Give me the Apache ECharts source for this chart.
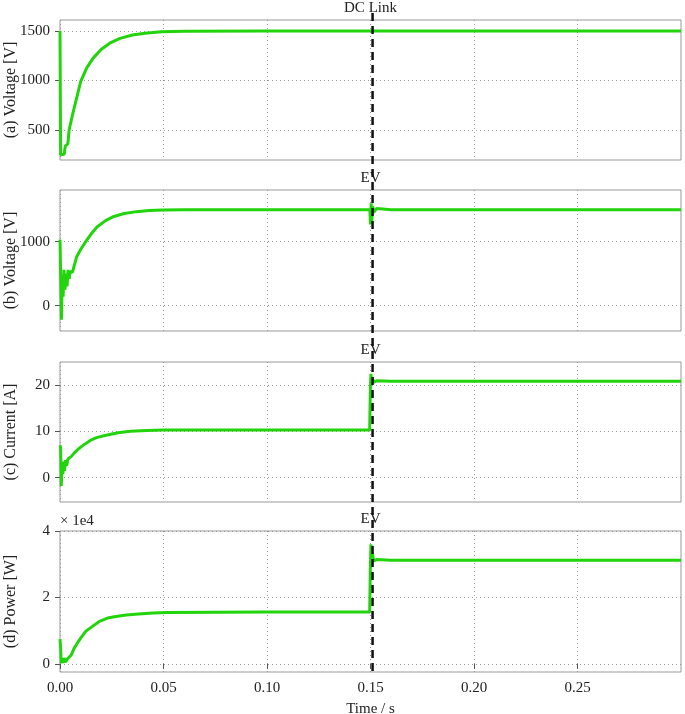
<!DOCTYPE html>
<html>
<head>
<meta charset="utf-8">
<script src="https://cdn.jsdelivr.net/npm/echarts@6/dist/echarts.min.js"></script>
<style>
html,body{margin:0;padding:0;background:#fff;}
#chart{width:685px;height:714px;}
</style>
</head>
<body>
<div id="chart"></div>
<script>
// ---- Data ----
const panelTitles = ['DC Link', 'EV', 'EV', 'EV'];
const yNames = ['(a) Voltage [V]', '(b) Voltage [V]', '(c) Current [A]', '(d) Power [W]'];
const xTicks = [0, 0.05, 0.10, 0.15, 0.20, 0.25];
const yTicksA = [500, 1000, 1500];
const yTicksB = [0, 1000];
const yTicksC = [0, 10, 20];
const yTicksD = [0, 20000, 40000];
const eventTime = 0.151;

const timeA = [0, 0.0003, 0.001, 0.002, 0.0026, 0.0032, 0.0038, 0.0044, 0.006, 0.008, 0.010, 0.013, 0.016, 0.020, 0.024, 0.029, 0.035, 0.041, 0.049, 0.06, 0.1, 0.15, 0.151, 0.152, 0.2, 0.3];
const voltA = [1500, 250, 240, 255, 340, 320, 360, 500, 650, 820, 990, 1130, 1226, 1316, 1377, 1425, 1459, 1478, 1492, 1498, 1500, 1500, 1502, 1500, 1500, 1500];

const timeB = [0, 0.0004, 0.0007, 0.0011, 0.0015, 0.0019, 0.0024, 0.0029, 0.0034, 0.0039, 0.0044, 0.005, 0.006, 0.0068, 0.008, 0.010, 0.0124, 0.015, 0.018, 0.022, 0.026, 0.031, 0.037, 0.043, 0.05, 0.06, 0.1, 0.1497, 0.1500, 0.1503, 0.1506, 0.151, 0.1515, 0.153, 0.16, 0.2, 0.3];
const voltB = [1030, 1000, -220, 480, 140, 560, 250, 500, 300, 560, 420, 540, 520, 620, 760, 880, 1000, 1120, 1235, 1330, 1395, 1440, 1470, 1487, 1495, 1500, 1500, 1500, 1270, 1600, 1300, 1560, 1460, 1520, 1500, 1500, 1500];

const timeC = [0, 0.0003, 0.0006, 0.001, 0.0014, 0.0018, 0.0022, 0.0027, 0.0032, 0.0038, 0.0044, 0.0055, 0.0068, 0.0084, 0.010, 0.0125, 0.0148, 0.018, 0.0228, 0.028, 0.034, 0.042, 0.05, 0.1, 0.1496, 0.1499, 0.1502, 0.1505, 0.1509, 0.1515, 0.153, 0.16, 0.2, 0.3];
const currC = [7.0, 6.5, -1.8, 3.2, 0.8, 3.5, 1.5, 3.8, 2.6, 4.0, 3.6, 4.6, 5.3, 6.0, 6.6, 7.4, 8.1, 8.7, 9.2, 9.7, 10.0, 10.2, 10.3, 10.3, 10.3, 18.5, 22.4, 20.2, 21.6, 20.6, 20.9, 20.8, 20.8, 20.8];

const timeD = [0, 0.0003, 0.0006, 0.001, 0.0015, 0.002, 0.0027, 0.0035, 0.0044, 0.0055, 0.0068, 0.0085, 0.0105, 0.0124, 0.015, 0.019, 0.023, 0.027, 0.032, 0.038, 0.045, 0.052, 0.1, 0.1496, 0.1499, 0.1502, 0.1505, 0.1509, 0.1515, 0.153, 0.16, 0.2, 0.3];
const powerD = [7500, 5000, 200, 1500, 300, 1800, 600, 1400, 1800, 2800, 4700, 6400, 8200, 9800, 11000, 12800, 13800, 14300, 14700, 15000, 15300, 15500, 15600, 15600, 28000, 36000, 30500, 33500, 31000, 31400, 31200, 31200, 31200];

// ---- Layout / style ----
const FONT = 'Liberation Serif';
const GREEN = '#22d40c';
const GRIDLINE = {type: [1, 3], color: '#999', width: 1};
const xRange = [0, 0.3];
const yRanges = [[197, 1611], [-395, 1808], [-5.24, 24.96], [-2420, 40000]];
const grids = [
  {left: 60, right: 4, top: 20, height: 140},
  {left: 60, right: 4, top: 190, height: 141},
  {left: 60, right: 4, top: 362, height: 140},
  {left: 60, right: 4, top: 531, height: 141}
];
const yTickSets = [yTicksA, yTicksB, yTicksC, yTicksD];
const seriesData = [[timeA, voltA], [timeB, voltB], [timeC, currC], [timeD, powerD]];

function pairs(t, v) { return t.map((x, i) => [x, v[i]]); }

const xAxes = [];
const yAxes = [];
const series = [];
for (let i = 0; i < 4; i++) {
  const isLast = i === 3;
  xAxes.push({
    type: 'value', gridIndex: i, min: xRange[0], max: xRange[1],
    axisLine: {show: false},
    axisTick: {show: isLast, length: 5, lineStyle: {color: '#555'}, customValues: xTicks},
    axisLabel: {show: isLast, customValues: xTicks, fontFamily: FONT, fontSize: 15, color: '#222', margin: 9,
      formatter: v => v.toFixed(2)},
    splitLine: {show: true, lineStyle: GRIDLINE},
    name: isLast ? 'Time / s' : '', nameLocation: 'middle', nameGap: 30, nameMoveOverlap: false,
    nameTextStyle: {fontFamily: FONT, fontSize: 15, color: '#222'}
  });
  const ticks = yTickSets[i];
  yAxes.push({
    type: 'value', gridIndex: i, min: yRanges[i][0], max: yRanges[i][1],
    axisLine: {show: false},
    axisTick: {show: true, length: 5, lineStyle: {color: '#555'}, customValues: ticks},
    axisLabel: {customValues: ticks, fontFamily: FONT, fontSize: 15, color: '#222', margin: 10,
      formatter: v => i === 3 ? String(Math.round(v / 10000)) : String(v)},
    splitLine: {show: true, lineStyle: GRIDLINE},
    name: yNames[i], nameLocation: 'middle', nameGap: 41, nameMoveOverlap: false,
    nameTextStyle: {fontFamily: FONT, fontSize: 16, color: '#222'}
  });
  series.push({
    type: 'line', xAxisIndex: i, yAxisIndex: i,
    data: pairs(seriesData[i][0], seriesData[i][1]),
    showSymbol: false, symbol: 'none',
    lineStyle: {color: GREEN, width: 3}, itemStyle: {color: GREEN},
    animation: false, silent: true
  });
}
// top axes carrying the panel titles
for (let i = 0; i < 4; i++) {
  xAxes.push({
    type: 'value', gridIndex: i, position: 'top', min: xRange[0], max: xRange[1],
    axisLine: {show: false}, axisTick: {show: false}, axisLabel: {show: false}, splitLine: {show: false},
    name: panelTitles[i], nameLocation: 'middle', nameGap: 4, nameMoveOverlap: false,
    nameTextStyle: {fontFamily: FONT, fontSize: 15, color: '#222'}
  });
}
// multiplier label for panel (d)
yAxes.push({
  type: 'value', gridIndex: 3, min: yRanges[3][0], max: yRanges[3][1],
  axisLine: {show: false}, axisTick: {show: false}, axisLabel: {show: false}, splitLine: {show: false},
  name: '× 1e4', nameLocation: 'end', nameGap: 2, nameMoveOverlap: false,
  nameTextStyle: {fontFamily: FONT, fontSize: 15, color: '#222', align: 'left', verticalAlign: 'bottom'}
});

const chart = echarts.init(document.getElementById('chart'), null, {renderer: 'canvas'});
chart.setOption({
  backgroundColor: '#fff',
  animation: false,
  grid: grids.map(g => Object.assign({show: true, borderColor: '#999', borderWidth: 1, backgroundColor: 'transparent',
    containLabel: false, outerBoundsMode: 'none'}, g)),
  xAxis: xAxes,
  yAxis: yAxes,
  series: series
});

// dashed event marker spanning all panels
const ex = chart.convertToPixel({xAxisIndex: 0}, eventTime);
const yTop = chart.convertToPixel({yAxisIndex: 0}, yRanges[0][1]) - 7;
const yBot = chart.convertToPixel({yAxisIndex: 3}, yRanges[3][0]) + 3;
chart.setOption({
  graphic: [{
    type: 'line', z: 100,
    shape: {x1: ex, y1: yTop, x2: ex, y2: yBot},
    style: {stroke: '#111', lineWidth: 2.5, lineDash: [8, 5]}
  }]
});
</script>
</body>
</html>
